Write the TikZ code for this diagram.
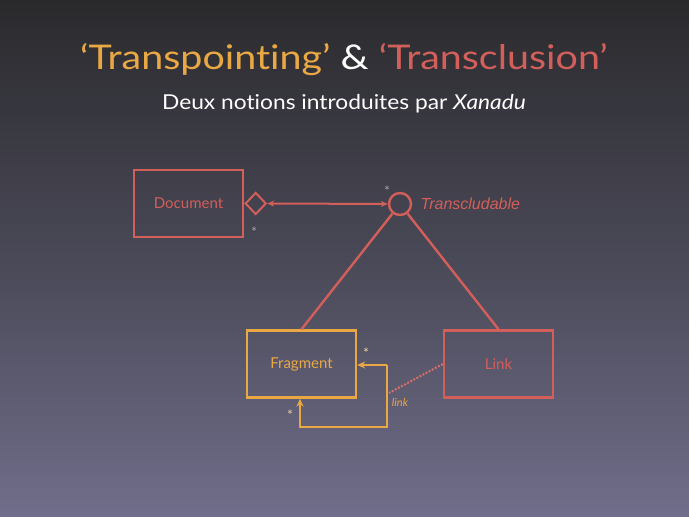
\documentclass[tikz,border=0pt]{standalone}
\usepackage{fontspec}
\setmainfont{Lato}[Ligatures=NoCommon]
\newfontfamily\helv{Liberation Sans}
\usepackage{tikz}
\usetikzlibrary{positioning,arrows.meta,shapes.geometric}

\definecolor{rouge}{HTML}{D35F5B}
\definecolor{orange}{HTML}{EAA844}
\definecolor{fondhaut}{HTML}{2A2A2D}
\definecolor{fondbas}{HTML}{706E8A}
\definecolor{etoile}{HTML}{A8A2AC}
\definecolor{etoileor}{HTML}{E6D2A4}

\begin{document}
\begin{tikzpicture}[x=1pt, y=1pt, line width=2.4pt,
                    classe/.style={rectangle,draw,minimum width=109pt,minimum height=67pt,font=\fontsize{15}{17}\selectfont},
                    mult/.style={font=\fontsize{14}{14}\selectfont,text=etoile,inner sep=0pt}]

\shade[top color=fondhaut, bottom color=fondbas, middle color=fondhaut!55!fondbas] (0,0) rectangle (689,517);
\useasboundingbox (0,0) rectangle (689,517);

% titre
\node[anchor=base, font=\fontsize{34}{40}\selectfont] (titre) at (344,447)
  {\scalebox{1.16}[1]{\textcolor{orange}{`Transpointing'} \textcolor{white}{\&} \textcolor{rouge}{`Transclusion'}}};
\node[anchor=base, text=white, font=\fontsize{20.5}{24}\selectfont] (soustitre) at (344,407)
  {\scalebox{1.11}[1]{Deux notions introduites par \textit{Xanadu}}};

% classes
\node[classe, draw=rouge, text=rouge] (doc) at (188.5,313.5) {Document};
\node[diamond, draw=rouge, line width=2pt, minimum width=21pt, minimum height=22pt, inner sep=0pt,
      right=0pt of doc] (agg) {};
\node[circle, draw=rouge, minimum size=22pt, inner sep=0pt] (trans) at (400,313) {};
\node[right=4pt of trans, text=rouge, font=\helv\itshape\fontsize{16}{18}\selectfont] (transnom) {Transcludable};
\node[classe, draw=orange, text=orange] (frag) at (301.5,153) {Fragment};
\node[classe, draw=rouge, text=rouge] (link) at (498.5,153) {Link};

% liens
\draw[rouge, line width=2pt, {Stealth[length=7pt,width=6pt]}-{Stealth[length=7pt,width=6pt]}] (agg) -- (trans);
\draw[rouge] (trans) -- (frag.north);
\draw[rouge] (trans) -- (link.north);

\coordinate (b1) at (387,152);
\coordinate (b2) at (387,90);
\coordinate (b3) at (300,90);
\draw[orange, line width=2pt, -{Stealth[length=8pt,width=7pt]}] (b1) -- (frag.east |- b1);
\draw[orange, line width=2pt, -{Stealth[length=8pt,width=7pt]}] (b1) -- (b2) -- (b3) -- (b3 |- frag.south);
\coordinate (b4) at (389,124);
\draw[rouge!85!pink, line width=2pt, dash pattern=on 2pt off 1.5pt] (link.west) -- (b4);

% multiplicites
\node[mult] (m1) at (387,326) {*};
\node[mult] (m2) at (254,285) {*};
\node[mult, text=etoileor] (m3) at (366,164) {*};
\node[mult, text=etoileor] (m4) at (290,102) {*};
\node[text=orange, font=\itshape\fontsize{11}{13}\selectfont] (nomlien) at (400,115) {link};
\end{tikzpicture}
\end{document}
